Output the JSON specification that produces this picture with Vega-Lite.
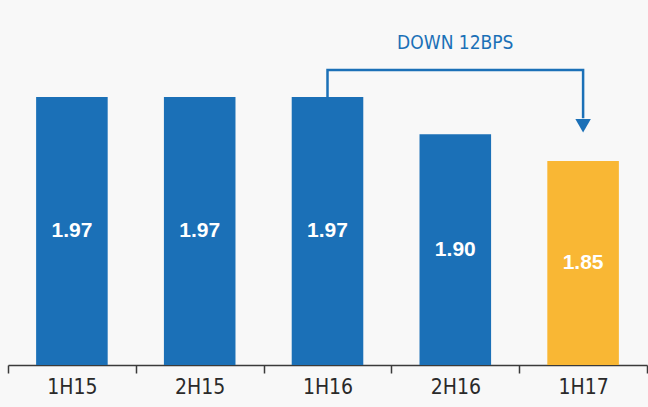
{
  "$schema": "https://vega.github.io/schema/vega-lite/v6.json",
  "width": 639,
  "height": 365,
  "autosize": {"type": "none"},
  "padding": {"left": 8, "top": 0, "right": 1, "bottom": 42},
  "background": "#f8f8f8",
  "datasets": {
    "bars": [
      {"period": "1H15", "value": 1.97, "highlight": "no"},
      {"period": "2H15", "value": 1.97, "highlight": "no"},
      {"period": "1H16", "value": 1.97, "highlight": "no"},
      {"period": "2H16", "value": 1.90, "highlight": "no"},
      {"period": "1H17", "value": 1.85, "highlight": "yes"}
    ],
    "arrow": [
      {"period": "1H16", "level": 1.97, "step": 1},
      {"period": "1H16", "level": 2.0206, "step": 2},
      {"period": "1H17", "level": 2.0206, "step": 3},
      {"period": "1H17", "level": 1.93, "step": 4}
    ],
    "head": [{"period": "1H17", "level": 1.916}],
    "note": [{"period": "2H16", "level": 2.071, "text": "DOWN 12BPS"}]
  },
  "encoding": {
    "x": {
      "field": "period",
      "type": "nominal",
      "sort": null,
      "scale": {"domain": ["1H15", "2H15", "1H16", "2H16", "1H17"], "paddingInner": 0, "paddingOuter": 0},
      "axis": {"title": null, "labelAngle": 0, "tickBand": "extent"}
    }
  },
  "layer": [
    {
      "data": {"name": "bars"},
      "mark": {"type": "bar", "width": {"band": 0.56}},
      "encoding": {
        "y": {"field": "value", "type": "quantitative", "scale": {"domain": [1.467, 2.152], "zero": false, "nice": false}, "axis": null},
        "y2": {"datum": 1.467},
        "color": {"field": "highlight", "type": "nominal", "scale": {"domain": ["no", "yes"], "range": ["#1b70b7", "#f9b734"]}, "legend": null}
      }
    },
    {
      "data": {"name": "bars"},
      "transform": [{"calculate": "(datum.value + 1.467) / 2", "as": "mid"}],
      "mark": {"type": "text", "color": "#ffffff", "font": "Liberation Sans", "fontWeight": "bold", "fontSize": 21, "baseline": "middle"},
      "encoding": {
        "y": {"field": "mid", "type": "quantitative"},
        "text": {"field": "value", "type": "quantitative", "format": ".2f"}
      }
    },
    {
      "data": {"name": "arrow"},
      "mark": {"type": "line", "color": "#1b70b7", "strokeWidth": 2.5, "strokeJoin": "miter", "strokeCap": "butt"},
      "encoding": {
        "y": {"field": "level", "type": "quantitative"},
        "order": {"field": "step", "type": "quantitative"}
      }
    },
    {
      "data": {"name": "head"},
      "mark": {"type": "point", "shape": "triangle-down", "filled": true, "color": "#1b70b7", "size": 240, "opacity": 1},
      "encoding": {
        "y": {"field": "level", "type": "quantitative"}
      }
    },
    {
      "data": {"name": "note"},
      "mark": {"type": "text", "color": "#1b70b7", "font": "DejaVu Sans Condensed, DejaVu Sans, sans-serif", "fontSize": 19, "baseline": "middle"},
      "encoding": {
        "y": {"field": "level", "type": "quantitative"},
        "text": {"field": "text"}
      }
    }
  ],
  "config": {
    "view": {"stroke": null},
    "axisX": {
      "domainColor": "#3a3a3a",
      "domainWidth": 1.5,
      "tickColor": "#3a3a3a",
      "tickWidth": 1.5,
      "tickSize": 8,
      "labelFont": "DejaVu Sans Condensed, Liberation Sans, sans-serif",
      "labelFontSize": 21,
      "labelColor": "#2a2a2a",
      "labelPadding": 3
    }
  }
}
